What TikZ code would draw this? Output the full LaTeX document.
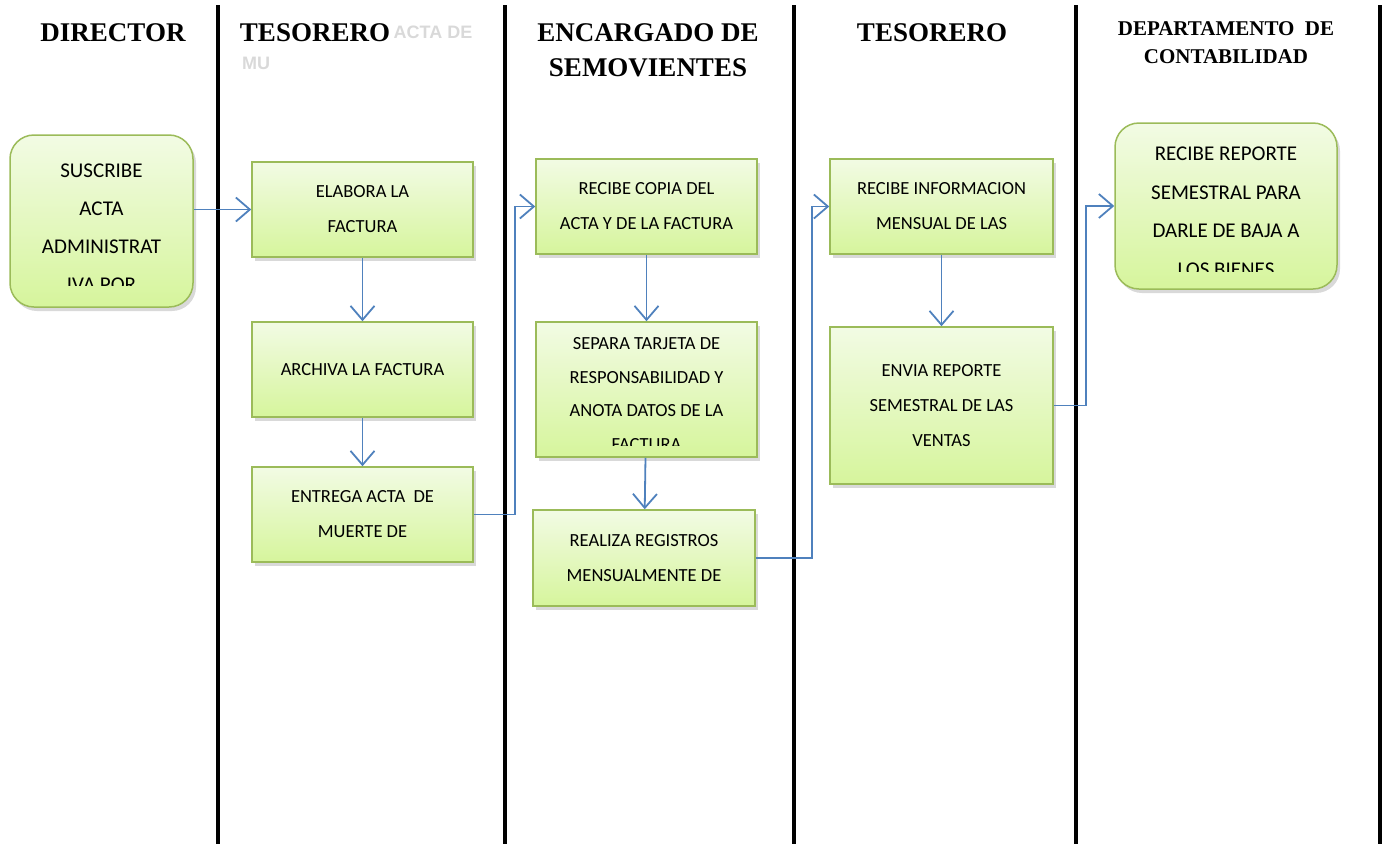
\documentclass[tikz,border=0pt]{standalone}
\usepackage{fontspec}
\setmainfont{Liberation Serif}
\newfontfamily\boxfont{Carlito}
\newfontfamily\ghostfont{Liberation Sans}
\usetikzlibrary{arrows.meta, shadows, positioning}
\definecolor{boxline}{RGB}{155,187,89}
\definecolor{boxtop}{RGB}{242,251,228}
\definecolor{boxbottom}{RGB}{214,245,156}
\definecolor{flowblue}{RGB}{79,129,189}
\tikzstyle{lane} = [line width=4pt, black]
\tikzstyle{header} = [font=\fontsize{27}{35}\selectfont\bfseries, align=center]
\tikzstyle{ghost} = [font=\ghostfont\fontsize{18}{20}\selectfont\bfseries, text=gray!30]
\tikzstyle{process} = [draw=boxline, line width=1.5pt, top color=boxtop, bottom color=boxbottom,
                       drop shadow={opacity=0.3, shadow xshift=3pt, shadow yshift=-4pt},
                       font=\boxfont\fontsize{18.5}{35}\selectfont, align=center, inner sep=0]
\tikzstyle{terminal} = [process, rounded corners=24pt]
\tikzstyle{boxtext} = [align=center, inner sep=0]
\tikzstyle{flow} = [draw=flowblue, line width=1.8pt, -{Straight Barb[length=14pt,width=24pt]}]

\begin{document}
\begin{tikzpicture}[x=1pt, y=-1pt]
	\useasboundingbox (0, 0) rectangle (1391, 844);

	% swimlanes
	\draw [lane] (218, 5) -- (218, 844);
	\draw [lane] (505, 5) -- (505, 844);
	\draw [lane] (794, 5) -- (794, 844);
	\draw [lane] (1076, 5) -- (1076, 844);
	\draw [lane] (1380, 5) -- (1380, 844);

	\node (HDirector) [header] at (113, 33) {DIRECTOR};
	\node (HTesorero) [header] at (315, 33) {TESORERO};
	\node (GhostActa) [ghost] at (433, 32) {ACTA DE};
	\node (GhostMu) [ghost] at (256, 63) {MU};
	\node (HEncargado) [header] at (648, 50) {ENCARGADO DE\\SEMOVIENTES};
	\node (HTesoreroB) [header] at (932, 33) {TESORERO};
	\node (HConta) [header, font=\fontsize{21}{28}\selectfont\bfseries] at (1226, 43) {DEPARTAMENTO \ DE\\CONTABILIDAD};

	% director
	\node (Suscribe) [terminal, minimum width=183pt, minimum height=172pt] at (101.5, 221) {};
	\begin{scope}
		\clip (10, 135) rectangle (193, 285);
		\node (SuscribeText) [boxtext, font=\boxfont\fontsize{21}{38}\selectfont] at (101.5, 228) {SUSCRIBE\\ACTA\\ADMINISTRAT\\IVA POR};
	\end{scope}

	% tesorero
	\node (Elabora) [process, minimum width=221pt, minimum height=95pt] at (362.5, 209.5) {ELABORA LA\\FACTURA};
	\node (Archiva) [process, minimum width=221pt, minimum height=95pt] at (362.5, 369.5) {ARCHIVA LA FACTURA};
	\node (Entrega) [process, minimum width=221pt, minimum height=95pt] at (362.5, 514.5) {ENTREGA ACTA \ DE\\MUERTE DE};
	\draw [flow] (Suscribe.east |- Elabora.west) -- (Elabora.west);
	\draw [flow] (Elabora) -- (Archiva);
	\draw [flow] (Archiva) -- (Entrega);

	% encargado de semovientes
	\node (RecibeCopia) [process, minimum width=221pt, minimum height=95pt] at (646.5, 206.5) {RECIBE COPIA DEL\\ACTA Y DE LA FACTURA};
	\node (Separa) [process, minimum width=221pt, minimum height=135pt] at (646.5, 389.5) {};
	\begin{scope}
		\clip (536, 322) rectangle (757, 445);
		\node (SeparaText) [boxtext, font=\boxfont\fontsize{18.5}{33.5}\selectfont] at (646.5, 394) {SEPARA TARJETA DE\\RESPONSABILIDAD Y\\ANOTA DATOS DE LA\\FACTURA};
	\end{scope}
	\node (Realiza) [process, minimum width=222pt, minimum height=96pt] at (644, 558) {REALIZA REGISTROS\\MENSUALMENTE DE};
	\coordinate (EntregaOut) at (515, 514.5);
	\draw [flow] (Entrega.east) -- (EntregaOut) |- (RecibeCopia.west);
	\draw [flow] (RecibeCopia) -- (Separa);
	\draw [flow] (Separa) -- (Realiza);

	% tesorero
	\node (RecibeInfo) [process, minimum width=223pt, minimum height=95pt] at (941.5, 206.5) {RECIBE INFORMACION\\MENSUAL DE LAS};
	\node (Envia) [process, minimum width=223pt, minimum height=157pt] at (941.5, 405.5) {ENVIA REPORTE\\SEMESTRAL DE LAS\\VENTAS};
	\coordinate (RealizaOut) at (812, 558);
	\draw [flow] (Realiza.east) -- (RealizaOut) |- (RecibeInfo.west);
	\draw [flow] (RecibeInfo) -- (Envia);

	% departamento de contabilidad
	\node (RecibeReporte) [terminal, minimum width=222pt, minimum height=166pt] at (1226, 206) {};
	\begin{scope}
		\clip (1115, 123) rectangle (1337, 271);
		\node (ReporteText) [boxtext, font=\boxfont\fontsize{21}{38.5}\selectfont] at (1226, 212) {RECIBE REPORTE\\SEMESTRAL PARA\\DARLE DE BAJA A\\LOS BIENES};
	\end{scope}
	\coordinate (EnviaOut) at (1086, 405.5);
	\draw [flow] (Envia.east) -- (EnviaOut) |- (RecibeReporte.west);
\end{tikzpicture}
\end{document}
